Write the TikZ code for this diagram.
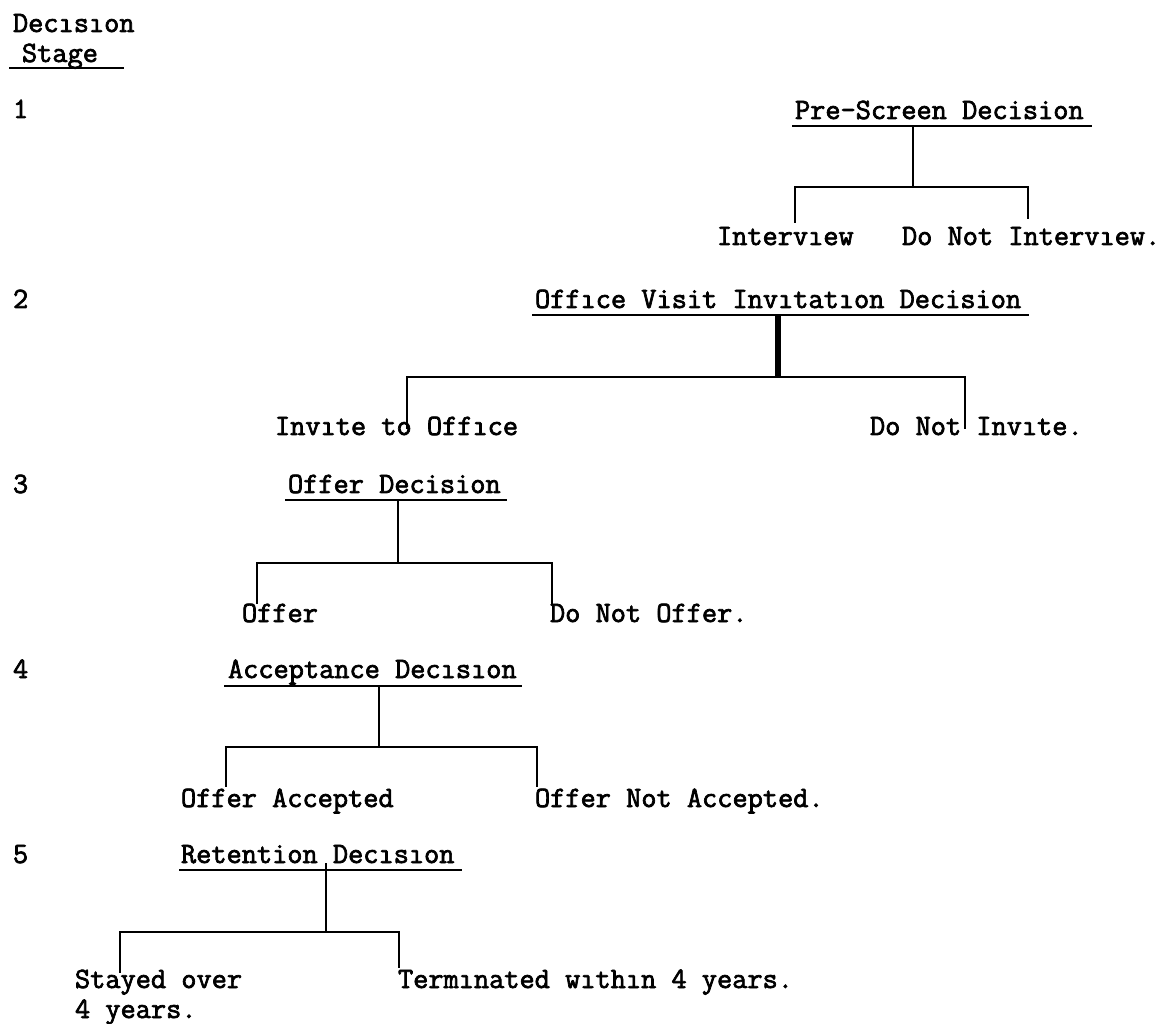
\documentclass[tikz,border=0pt]{standalone}
\usepackage{fontspec}
\newfontfamily\tw[FakeStretch=1.0,FakeBold=2.4]{Latin Modern Mono}
\begin{document}
\begin{tikzpicture}[x=1pt,y=1pt,
  txt/.style={anchor=base west,inner sep=0pt,outer sep=0pt,font=\tw\fontsize{29.5}{31}\selectfont},
  ln/.style={line width=2.6pt,line cap=rect},
  thick stem/.style={line width=5.5pt}]
\useasboundingbox (0,0) rectangle (1163,-1024);

% header
\node[txt] (hd1) at (13,-32) {Decısıon};
\node[txt] (hd2) at (22,-62) {Stage};
\draw[ln] (10,-68) -- (123,-68);

% stage numbers
\node[txt] (n1) at (13,-118) {1};
\node[txt] (n2) at (13,-308) {2};
\node[txt] (n3) at (13,-493) {3};
\node[txt] (n4) at (13,-678) {4};
\node[txt] (n5) at (13,-863) {5};

% ---------- stage 1
\node[txt] (h1) at (795,-119) {Pre-Screen Decision};
\draw[ln] (793,-126) -- (1091,-126);
\coordinate (u1) at (913,-126);
\coordinate (m1) at (913,-187);
\coordinate (b1l) at (795,-187);
\coordinate (b1r) at (1028,-187);
\coordinate (d1l) at (795,-222);
\coordinate (d1r) at (1028,-218);
\node[txt] (l1a) at (717,-245) {Intervıew};
\node[txt] (l1b) at (902,-245) {Do Not Intervıew.};
\draw[ln] (u1) -- (m1);
\draw[ln] (d1l) -- (b1l) -- (b1r) -- (d1r);

% ---------- stage 2
\node[txt] (h2) at (535,-308) {Offıce Visit Invıtatıon Decision};
\draw[ln] (533,-315) -- (1028,-315);
\coordinate (u2) at (778,-315);
\coordinate (m2) at (778,-377);
\coordinate (b2l) at (407,-377);
\coordinate (b2r) at (965,-377);
\coordinate (d2l) at (407,-428);
\coordinate (d2r) at (965,-428);
\node[txt] (l2a) at (275,-435) {Invıte to Offıce};
\node[txt] (l2b) at (870,-435) {Do Not Invıte.};
\draw[thick stem] (u2) -- (m2);
\draw[ln] (d2l) -- (b2l) -- (b2r) -- (d2r);

% ---------- stage 3
\node[txt] (h3) at (288,-493) {Offer Decision};
\draw[ln] (286,-500) -- (506,-500);
\coordinate (u3) at (398,-500);
\coordinate (m3) at (398,-563);
\coordinate (b3l) at (257,-563);
\coordinate (b3r) at (552,-563);
\coordinate (d3l) at (257,-603);
\coordinate (d3r) at (552,-603);
\node[txt] (l3a) at (242,-622) {Offer};
\node[txt] (l3b) at (550,-622) {Do Not Offer.};
\draw[ln] (u3) -- (m3);
\draw[ln] (d3l) -- (b3l) -- (b3r) -- (d3r);

% ---------- stage 4
\node[txt] (h4) at (228,-678) {Acceptance Decısıon};
\draw[ln] (225,-686) -- (521,-686);
\coordinate (u4) at (379,-686);
\coordinate (m4) at (379,-747);
\coordinate (b4l) at (226,-747);
\coordinate (b4r) at (537,-747);
\coordinate (d4l) at (226,-786);
\coordinate (d4r) at (537,-786);
\node[txt] (l4a) at (181,-807) {Offer Accepted};
\node[txt] (l4b) at (535,-807) {Offer Not Accepted.};
\draw[ln] (u4) -- (m4);
\draw[ln] (d4l) -- (b4l) -- (b4r) -- (d4r);

% ---------- stage 5
\node[txt] (h5) at (181,-863) {Retention Decısıon};
\draw[ln] (180,-870) -- (461,-870);
\coordinate (u5) at (326,-864);
\coordinate (m5) at (326,-932);
\coordinate (b5l) at (120,-932);
\coordinate (b5r) at (399,-932);
\coordinate (d5l) at (120,-972);
\coordinate (d5r) at (399,-967);
\node[txt] (l5a) at (75,-988) {Stayed over};
\node[txt] (l5c) at (75,-1018) {4 years.};
\node[txt] (l5b) at (398,-988) {Termınated wıthın 4 years.};
\draw[ln] (u5) -- (m5);
\draw[ln] (d5l) -- (b5l) -- (b5r) -- (d5r);
\end{tikzpicture}
\end{document}
